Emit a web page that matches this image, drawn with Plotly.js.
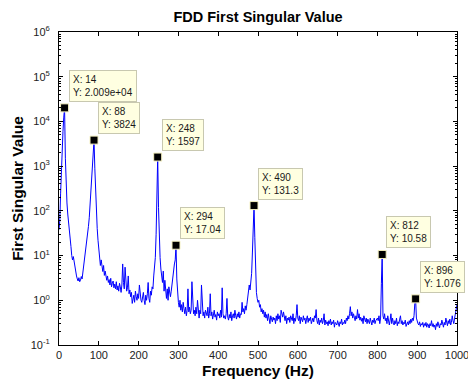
<!DOCTYPE html>
<html>
<head>
<meta charset="utf-8">
<script src="https://cdn.plot.ly/plotly-3.0.1.min.js"></script>
<style>html,body{margin:0;padding:0;background:#fff;}#chart{width:468px;height:381px;}</style>
</head>
<body>
<div id="chart"></div>
<script>
// Frequency step of the spectrum (Hz) and its first frequency
var freqStart = 0;
var freqStep = 2;

// First singular value, one value every 2 Hz from 0 to 1000 Hz
var singularValue = [
  38, 60, 240, 900, 3000, 6000, 12500, 20090, 1500, 260,          // 0-18
  150, 85, 60, 42, 28, 16, 10, 8, 9.5, 7,                          // 20-38
  5, 4.2, 3.5, 3.0, 2.7, 3.2, 2.6, 2.8, 3.4, 3.0,                  // 40-58
  4.2, 5.5, 7.5, 9, 12, 18, 28, 45, 70, 130,                       // 60-78
  250, 500, 1100, 2600, 3824, 900, 200, 70, 40, 22,                // 80-98
  14, 10, 6, 8, 5, 4.4, 6, 3.6, 4.5, 3.2,                          // 100-118
  2.8, 3.5, 2.5, 2.9, 2.2, 3.1, 2.0, 2.4, 2.7, 1.9,                // 120-138
  2.3, 1.8, 2.6, 1.7, 2.1, 1.6, 2.4, 2.0, 1.5, 2.2,                // 140-158
  6.5, 2.5, 1.8, 5.5, 2.0, 1.6, 1.9, 3.5, 1.4, 1.7,                // 160-178
  1.2, 1.5, 0.85, 1.1, 1.3, 0.9, 1.6, 1.2, 1.0, 1.4,               // 180-198
  1.1, 2.2, 1.3, 1.0, 0.9, 1.2, 1.5, 1.0, 0.8, 1.3,                // 200-218
  1.0, 1.4, 2.5, 1.1, 0.9, 1.6, 1.3, 2.0, 1.8, 3.5,                // 220-238
  5.0, 9, 30, 200, 1597, 120, 20, 9, 5, 3.5,                       // 240-258
  2.5, 4.5, 1.6, 2.8, 1.4, 1.1, 1.8, 1.0, 2.0, 1.3,                // 260-278
  1.2, 1.6, 2.5, 3.5, 5.0, 6.5, 8, 17.04, 3.0, 1.2,                // 280-298
  0.9, 0.7, 1.0, 0.6, 0.8, 0.55, 0.9, 0.65, 0.5, 0.7,              // 300-318
  0.45, 0.6, 1.8, 0.55, 0.7, 0.5, 0.6, 2.6, 0.8, 0.5,              // 320-338
  0.6, 0.45, 0.7, 0.5, 1.0, 0.55, 0.4, 0.6, 0.5, 2.2,              // 340-358
  0.7, 0.45, 0.55, 0.4, 0.6, 0.5, 0.45, 0.7, 0.4, 0.5,             // 360-378
  1.4, 0.45, 0.55, 0.38, 0.5, 0.6, 0.42, 0.48, 0.36, 0.55,         // 380-398
  0.45, 0.5, 0.4, 0.6, 0.42, 1.9, 0.5, 0.4, 0.45, 0.38,            // 400-418
  0.5, 1.1, 0.42, 0.36, 0.48, 0.4, 0.55, 0.35, 0.45, 0.5,          // 420-438
  0.4, 0.6, 0.45, 0.38, 0.5, 0.42, 0.55, 0.4, 0.5, 0.48,           // 440-458
  0.9, 0.55, 0.65, 0.5, 0.75, 0.6, 0.8, 1.2, 1.8, 2.2,             // 460-478
  1.7, 2.5, 4, 12, 55, 131.3, 25, 3.5, 1.5, 1.1,                   // 480-498
  0.9, 1.0, 0.7, 0.8, 0.55, 0.65, 0.5, 0.6, 0.42, 0.55,            // 500-518
  0.4, 0.48, 0.35, 0.5, 0.4, 0.3, 0.45, 0.38, 0.33, 0.42,          // 520-538
  0.36, 0.4, 0.3, 0.45, 0.35, 0.5, 0.38, 0.45, 0.32, 0.6,          // 540-558
  0.5, 0.42, 0.55, 0.4, 0.35, 0.45, 0.3, 0.4, 0.36, 0.42,          // 560-578
  0.32, 0.45, 0.38, 0.35, 0.5, 0.3, 0.4, 0.34, 0.45, 0.8,          // 580-598
  0.4, 0.35, 0.45, 0.3, 0.42, 0.38, 0.33, 0.45, 0.36, 0.4,         // 600-618
  0.3, 0.38, 0.45, 0.32, 0.4, 0.35, 0.42, 0.3, 0.36, 0.4,          // 620-638
  0.33, 0.45, 0.4, 0.62, 0.35, 0.3, 0.4, 0.28, 0.36, 0.32,         // 640-658
  0.4, 0.3, 0.35, 0.5, 0.28, 0.36, 0.3, 0.33, 0.27, 0.35,          // 660-678
  0.3, 0.38, 0.28, 0.33, 0.3, 0.36, 0.25, 0.32, 0.3, 0.28,         // 680-698
  0.35, 0.3, 0.26, 0.33, 0.3, 0.38, 0.28, 0.32, 0.3, 0.36,         // 700-718
  0.3, 0.4, 0.35, 0.45, 0.38, 0.5, 0.72, 0.45, 0.55, 0.4,          // 720-738
  0.5, 0.42, 0.35, 0.45, 0.38, 0.62, 0.4, 0.5, 0.36, 0.42,         // 740-758
  0.34, 0.4, 0.3, 0.45, 0.36, 0.33, 0.4, 0.3, 0.38, 0.35,          // 760-778
  0.3, 0.4, 0.34, 0.28, 0.36, 0.32, 0.4, 0.3, 0.35, 0.38,          // 780-798
  0.4, 0.35, 0.45, 0.3, 0.4, 2.4, 10.58, 0.45, 0.38, 0.5,          // 800-818
  0.35, 0.4, 0.3, 0.45, 0.33, 0.28, 0.36, 0.5, 0.3, 0.4,           // 820-838
  0.32, 0.28, 0.35, 0.3, 0.4, 0.27, 0.33, 0.3, 0.38, 0.45,         // 840-858
  0.3, 0.35, 0.28, 0.32, 0.3, 0.36, 0.26, 0.3, 0.33, 0.28,         // 860-878
  0.35, 0.3, 0.38, 0.32, 0.4, 0.35, 0.45, 0.85, 1.076, 0.4,        // 880-898
  0.32, 0.3, 0.28, 0.33, 0.26, 0.3, 0.28, 0.32, 0.25, 0.3,         // 900-918
  0.27, 0.32, 0.25, 0.3, 0.28, 0.24, 0.3, 0.27, 0.35, 0.26,        // 920-938
  0.3, 0.25, 0.28, 0.22, 0.3, 0.26, 0.33, 0.28, 0.24, 0.3,         // 940-958
  0.28, 0.36, 0.3, 0.25, 0.32, 0.28, 0.4, 0.3, 0.27, 0.35,         // 960-978
  0.3, 0.38, 0.28, 0.32, 0.45, 0.35, 0.3, 0.4, 0.5, 0.6,           // 980-998
  0.8                                                               // 1000
];

// Data tips
var tipX = [14, 88, 248, 294, 490, 812, 896];
var tipY = [20090, 3824, 1597, 17.04, 131.3, 10.58, 1.076];
var tipXLabel = ["14", "88", "248", "294", "490", "812", "896"];
var tipYLabel = ["2.009e+04", "3824", "1597", "17.04", "131.3", "10.58", "1.076"];

// Axis ticks
var xTickVals = [0, 100, 200, 300, 400, 500, 600, 700, 800, 900, 1000];
var yTickVals = [0.1, 1, 10, 100, 1000, 10000, 100000, 1000000];
var yTickText = ["10<sup>-1</sup>", "10<sup>0</sup>", "10<sup>1</sup>", "10<sup>2</sup>",
                 "10<sup>3</sup>", "10<sup>4</sup>", "10<sup>5</sup>", "10<sup>6</sup>"];

var freq = singularValue.map(function (_, i) { return freqStart + i * freqStep; });

var minorVals = [];
for (var d = 0; d < yTickVals.length - 1; d++) {
  for (var m = 2; m <= 9; m++) minorVals.push(yTickVals[d] * m);
}

var font = "'Liberation Sans', Arial, Helvetica, sans-serif";

var traces = [
  {
    x: freq, y: singularValue, type: 'scatter', mode: 'lines',
    line: {color: '#0000ff', width: 1}, hoverinfo: 'skip'
  },
  {
    x: tipX, y: tipY, type: 'scatter', mode: 'markers',
    marker: {symbol: 'square', size: 8, color: '#000000', line: {color: '#f4f0c0', width: 1}},
    hoverinfo: 'skip', cliponaxis: false
  }
];

var annotations = tipX.map(function (x, i) {
  return {
    x: x, y: Math.log10(tipY[i]), xref: 'x', yref: 'y',
    text: 'X: ' + tipXLabel[i] + '<br>Y: ' + tipYLabel[i],
    showarrow: false, xanchor: 'left', yanchor: 'bottom', align: 'left',
    xshift: 4, yshift: 6,
    bgcolor: '#ffffe1', bordercolor: '#c8c8b0', borderwidth: 1, borderpad: 3,
    font: {family: font, size: 10, color: '#1a1a1a'}
  };
});

var layout = {
  width: 468, height: 381,
  margin: {l: 59, r: 11, t: 32, b: 36, pad: 0},
  paper_bgcolor: '#ffffff', plot_bgcolor: '#ffffff',
  showlegend: false,
  font: {family: font, color: '#000000'},
  title: {
    text: 'FDD First Singular Value',
    font: {family: font, size: 14.5, weight: 'bold', color: '#000'},
    x: 0.5, xref: 'paper', xanchor: 'center', y: 0.955, yanchor: 'middle'
  },
  xaxis: {
    range: [0, 1000], tickmode: 'array', tickvals: xTickVals,
    ticks: 'inside', ticklen: 4, tickcolor: '#000', mirror: 'ticks',
    showline: true, linecolor: '#000', linewidth: 1,
    showgrid: false, zeroline: false, ticklabeloverflow: 'allow',
    tickfont: {family: font, size: 11, color: '#222'},
    title: {text: 'Frequency (Hz)', font: {family: font, size: 15.5, weight: 'bold', color: '#000'}, standoff: 4}
  },
  yaxis: {
    type: 'log', range: [-1, 6],
    tickmode: 'array', tickvals: yTickVals, ticktext: yTickText,
    ticks: 'inside', ticklen: 4, tickcolor: '#000', mirror: 'ticks',
    minor: {tickmode: 'array', tickvals: minorVals, ticks: 'inside', ticklen: 2, tickcolor: '#000', showgrid: false},
    showline: true, linecolor: '#000', linewidth: 1,
    showgrid: false, zeroline: false, ticklabelstandoff: 6,
    tickfont: {family: font, size: 11, color: '#222'},
    title: {text: 'First Singular Value', font: {family: font, size: 15.5, weight: 'bold', color: '#000'}, standoff: 3}
  },
  annotations: annotations
};

Plotly.newPlot('chart', traces, layout, {staticPlot: true, displayModeBar: false});
</script>
</body>
</html>
